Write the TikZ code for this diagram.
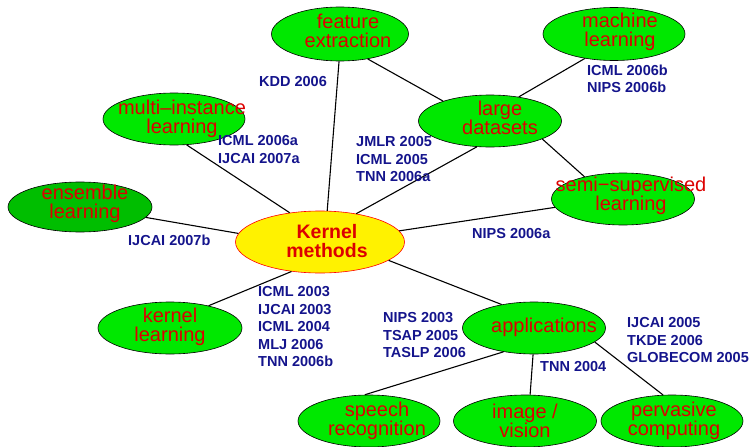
\documentclass[tikz,border=0pt]{standalone}
\usepackage{fontspec}
\setmainfont{Liberation Sans}
\usetikzlibrary{shapes.geometric}
\definecolor{lgreen}{RGB}{0,232,0}
\definecolor{dgreen}{RGB}{0,190,0}
\definecolor{tred}{RGB}{220,0,0}
\definecolor{navy}{RGB}{20,20,140}
\tikzset{
  topic/.style={ellipse, draw=black, line width=0.6pt, fill=lgreen, inner sep=0pt,
    minimum width=143, minimum height=52},
  ttext/.style={text=tred, align=center, inner sep=0pt,
    font=\fontsize{20}{18.5}\selectfont},
  lbl/.style={text=navy, align=left, anchor=north west, inner sep=0pt,
    font=\fontsize{14.5}{17.5}\selectfont\bfseries},
  edge/.style={line width=1.1pt, black}
}
\begin{document}
\begin{tikzpicture}[x=1pt,y=-1pt]
\useasboundingbox (0,0) rectangle (753,447);
% ellipses
\node[topic, minimum width=137, minimum height=54] (fe) at (340,34) {};
\node[topic, minimum width=142, minimum height=53] (ml) at (614,34) {};
\node[topic, minimum width=142] (mi) at (174,119) {};
\node[topic] (ld) at (490,121) {};
\node[topic, fill=dgreen, minimum width=144, minimum height=50] (en) at (80,207) {};
\node[ellipse, draw=red, line width=0.6pt, fill=yellow, inner sep=0pt,
  minimum width=169, minimum height=62] (km) at (320,242) {};
\node[topic] (ss) at (623,199) {};
\node[topic, minimum width=144] (kl) at (170,328) {};
\node[topic] (ap) at (534,328) {};
\node[topic, minimum width=142] (sr) at (369,421) {};
\node[topic] (iv) at (525,421) {};
\node[topic, minimum width=142] (pc) at (672,421) {};
% texts
\node[ttext] (feT) at (348,31) {feature\\extraction};
\node[ttext] (mlT) at (620,32) {machine\\learning};
\node[ttext] (miT) at (182,119) {multi–instance\\learning};
\node[ttext] (ldT) at (500,118) {large\\datasets};
\node[ttext] (enT) at (85,204) {ensemble\\learning};
\node[ttext, font=\fontsize{19.5}{19}\selectfont\bfseries] (kmT) at (327,241.5) {Kernel\\methods};
\node[ttext] (ssT) at (631,196) {semi−supervised\\learning};
\node[ttext] (klT) at (170,327) {kernel\\learning};
\node[ttext] (apT) at (544,327) {applications};
\node[ttext] (srT) at (377,421) {speech\\recognition};
\node[ttext] (ivT) at (525,421) {image /\\vision};
\node[ttext] (pcT) at (674,421) {pervasive\\computing};
% edges
\draw[edge] (km.77) -- (fe.268);
\draw[edge] (km.38) -- (ld.243);
\draw[edge] (km.136) -- (mi.296);
\draw[edge] (km.174.5) -- (en.351);
\draw[edge] (km.8) -- (ss.187.5);
\draw[edge] (km.226) -- (kl.30);
\draw[edge] (km.345) -- (ap.144);
\draw[edge] (ld.157) -- (fe.318);
\draw[edge] (ld.40) -- (ml.220);
\draw[edge] (ld.341) -- (ss.150);
\draw[edge] (ap.218) -- (sr.99);
\draw[edge] (ap.268) -- (iv.79);
\draw[edge] (ap.347) -- (pc.109);
% labels
\node[lbl] (l1) at (259,76.5) {KDD 2006};
\node[lbl] (l2) at (218,135.5) {ICML 2006a\\IJCAI 2007a};
\node[lbl] (l3) at (356,136.5) {JMLR 2005\\ICML 2005\\TNN 2006a};
\node[lbl] (l4) at (587,64.5) {ICML 2006b\\NIPS 2006b};
\node[lbl] (l5) at (128,234.5) {IJCAI 2007b};
\node[lbl] (l6) at (472,228.5) {NIPS 2006a};
\node[lbl] (l7) at (258,286.5) {ICML 2003\\IJCAI 2003\\ICML 2004\\MLJ 2006\\TNN 2006b};
\node[lbl] (l8) at (383,312.5) {NIPS 2003\\TSAP 2005\\TASLP 2006};
\node[lbl] (l9) at (540,361.5) {TNN 2004};
\node[lbl] (l10) at (627,317.5) {IJCAI 2005\\TKDE 2006\\GLOBECOM 2005};
\end{tikzpicture}
\end{document}
